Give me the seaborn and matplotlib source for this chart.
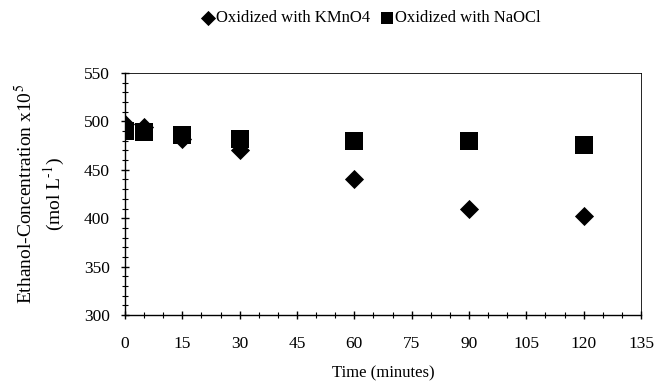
import matplotlib
matplotlib.use("Agg")
import matplotlib.pyplot as plt
import seaborn as sns
import pandas as pd
from matplotlib.ticker import MultipleLocator

time_min = [0, 5, 15, 30, 60, 90, 120]
kmno4 = [497, 494, 482, 470, 441, 410, 402]
naocl = [490, 489, 486, 482, 480, 480, 476]
series_names = ["Oxidized with KMnO4", "Oxidized with NaOCl"]

df_k = pd.DataFrame({"Time": time_min, "Conc": kmno4})
df_n = pd.DataFrame({"Time": time_min, "Conc": naocl})

sns.set_theme(style="ticks")
plt.rcParams['font.family'] = ['Liberation Serif', 'DejaVu Serif']
plt.rcParams['mathtext.fontset'] = 'stix'

fig = plt.figure(figsize=(6.54, 3.9), dpi=100)
ax = fig.add_axes([125/654, 1 - 315/390, (641-125)/654, (315-73)/390])

sns.scatterplot(data=df_k, x="Time", y="Conc", marker="D", color="black",
                s=95, ax=ax, linewidth=0, zorder=3, label=series_names[0])
sns.scatterplot(data=df_n, x="Time", y="Conc", marker="s", color="black",
                s=150, ax=ax, linewidth=0, zorder=3, label=series_names[1])

ax.set_xlim(0, 135)
ax.set_ylim(300, 550)
ax.xaxis.set_major_locator(MultipleLocator(15))
ax.xaxis.set_minor_locator(MultipleLocator(5))
ax.yaxis.set_major_locator(MultipleLocator(50))
ax.yaxis.set_minor_locator(MultipleLocator(10))
ax.tick_params(axis="both", which="major", direction="inout", length=6, width=1,
               labelsize=12.5, color="black", labelcolor="black")
ax.tick_params(axis="both", which="minor", direction="inout", length=4, width=0.8, color="black")
ax.tick_params(axis="x", pad=12)
ax.tick_params(axis="y", pad=8)
for sp in ax.spines.values():
    sp.set_color("black")
    sp.set_linewidth(1)
ax.spines["top"].set_linewidth(0.6)
ax.spines["right"].set_linewidth(0.6)

ax.set_xlabel("Time (minutes)", fontsize=12, color="black", labelpad=10)
ax.set_ylabel("Ethanol-Concentration x10$^{\\mathrm{5}}$\n(mol L$^{\\mathrm{\u2010}1}$)", fontsize=14,
              color="black", linespacing=1.3, labelpad=12)

ax.get_legend().remove()
leg = fig.legend(loc="center", bbox_to_anchor=(371/654, 1 - 18/390), ncol=2, frameon=False,
                 fontsize=12, handletextpad=0.1, columnspacing=0.6,
                 handlelength=0.8, borderaxespad=0)
handles = leg.legend_handles
handles[0].set_sizes([60])
handles[1].set_sizes([75])
for t in leg.get_texts():
    t.set_color("black")

fig.savefig("out.png", dpi=100)
